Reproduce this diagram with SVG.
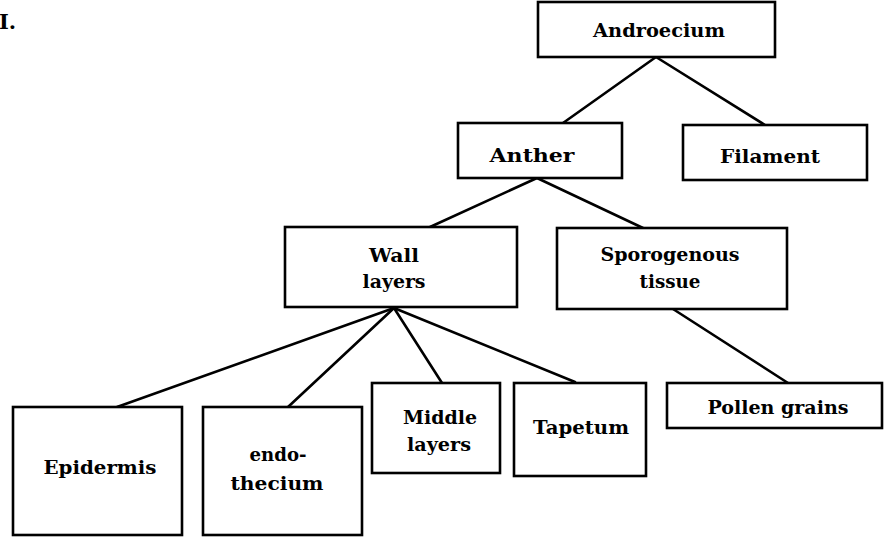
<svg xmlns="http://www.w3.org/2000/svg" width="888" height="538" viewBox="0 0 888 538">
<style>
rect{fill:#fff;stroke:#000;stroke-width:2.6}
line{stroke:#000;stroke-width:2.6;stroke-linecap:round}
text{font-family:"DejaVu Serif","Liberation Serif",serif;font-weight:bold;font-size:18.5px;fill:#000;text-anchor:middle}
</style>
<rect x="0" y="0" width="888" height="538" style="stroke:none"/>
<text x="-1" y="29" style="text-anchor:start;font-size:21px">I.</text>
<g id="connectors">
<line x1="656" y1="57" x2="563" y2="123"/>
<line x1="656" y1="57" x2="765" y2="125"/>
<line x1="537" y1="178" x2="430" y2="227"/>
<line x1="537" y1="178" x2="643" y2="228"/>
<line x1="394" y1="308" x2="117" y2="407"/>
<line x1="394" y1="308" x2="288" y2="407"/>
<line x1="394" y1="308" x2="442" y2="383"/>
<line x1="394" y1="308" x2="575" y2="382"/>
<line x1="673" y1="309" x2="788" y2="383"/>
</g>
<g id="androecium"><rect x="538" y="2" width="237" height="55"/><text x="659" y="37" textLength="132" lengthAdjust="spacingAndGlyphs">Androecium</text></g>
<g id="anther"><rect x="458" y="123" width="164" height="55"/><text x="532" y="162" textLength="85" lengthAdjust="spacingAndGlyphs">Anther</text></g>
<g id="filament"><rect x="683" y="125" width="184" height="55"/><text x="770" y="163" textLength="100" lengthAdjust="spacingAndGlyphs">Filament</text></g>
<g id="wall-layers"><rect x="285" y="227" width="232" height="80"/><text x="394" y="262" textLength="50" lengthAdjust="spacingAndGlyphs">Wall</text><text x="394" y="288" textLength="63" lengthAdjust="spacingAndGlyphs">layers</text></g>
<g id="sporogenous"><rect x="557" y="228" width="230" height="81"/><text x="670" y="261" textLength="139" lengthAdjust="spacingAndGlyphs">Sporogenous</text><text x="670" y="288" textLength="61" lengthAdjust="spacingAndGlyphs">tissue</text></g>
<g id="epidermis"><rect x="13" y="407" width="169" height="128"/><text x="100" y="474" textLength="113" lengthAdjust="spacingAndGlyphs">Epidermis</text></g>
<g id="endothecium"><rect x="203" y="407" width="159" height="128"/><text x="278" y="461" textLength="57" lengthAdjust="spacingAndGlyphs">endo-</text><text x="277" y="490" textLength="93" lengthAdjust="spacingAndGlyphs">thecium</text></g>
<g id="middle-layers"><rect x="372" y="383" width="128" height="90"/><text x="440" y="424" textLength="74" lengthAdjust="spacingAndGlyphs">Middle</text><text x="439" y="451" textLength="64" lengthAdjust="spacingAndGlyphs">layers</text></g>
<g id="tapetum"><rect x="514" y="383" width="132" height="93"/><text x="581" y="434" textLength="96" lengthAdjust="spacingAndGlyphs">Tapetum</text></g>
<g id="pollen-grains"><rect x="667" y="383" width="215" height="45"/><text x="778" y="414" textLength="141" lengthAdjust="spacingAndGlyphs">Pollen grains</text></g>
</svg>
